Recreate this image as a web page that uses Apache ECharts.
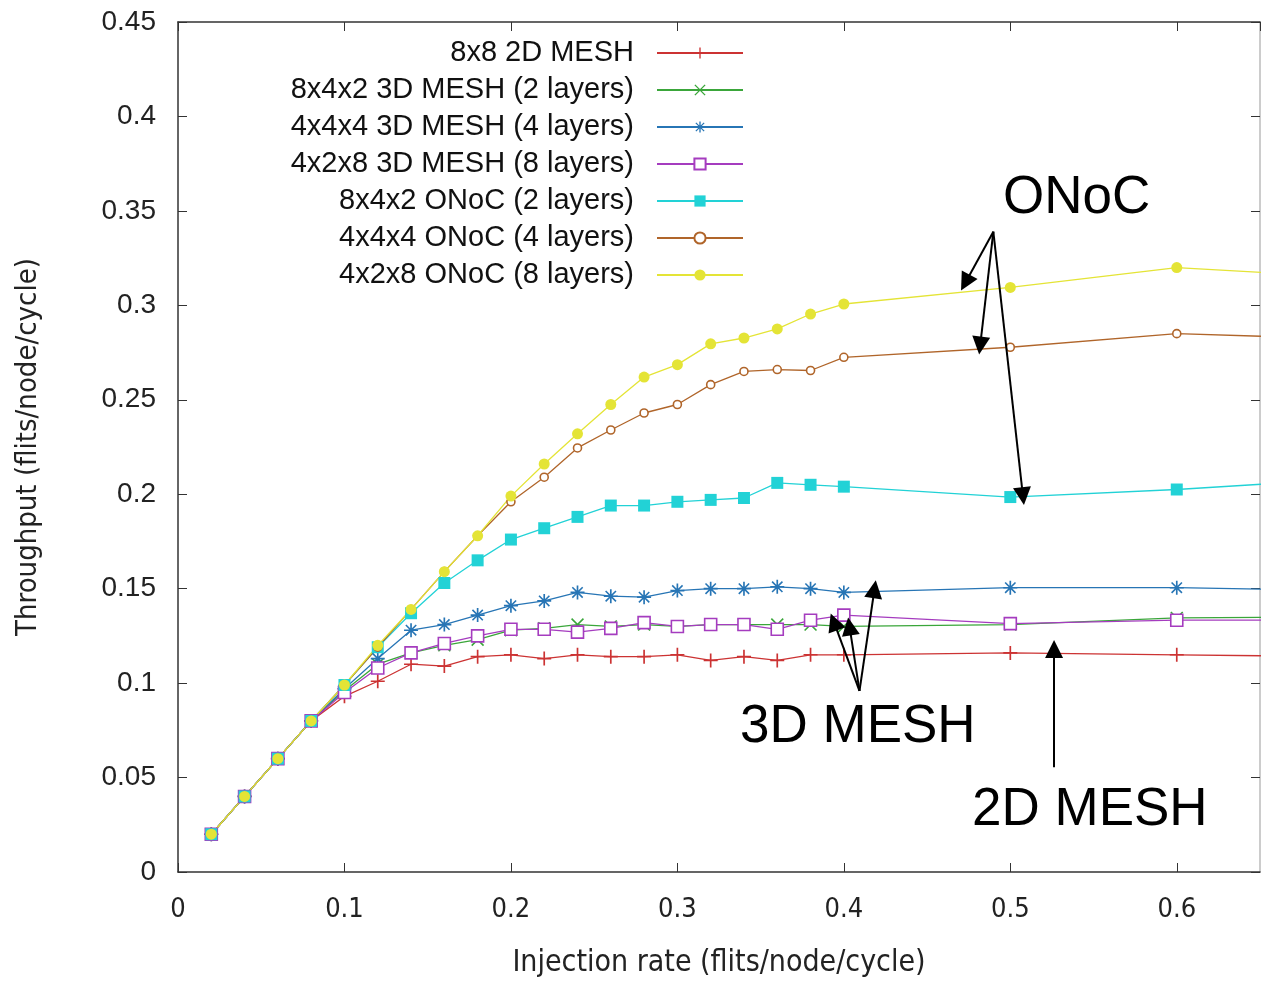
<!DOCTYPE html>
<html>
<head>
<meta charset="utf-8">
<script src="https://cdn.jsdelivr.net/npm/echarts@6/dist/echarts.min.js"></script>
<style>
    html, body { margin: 0; padding: 0; background: #fff; }
    #main { width: 1261px; height: 983px; }
</style>
</head>
<body>
<div id="main"></div>
<script>
// injection rate (x)
const injection = [0.02, 0.04, 0.06, 0.08, 0.10, 0.12, 0.14, 0.16, 0.18, 0.20, 0.22, 0.24, 0.26, 0.28, 0.30, 0.32, 0.34, 0.36, 0.38, 0.40, 0.5, 0.6, 0.7];

// throughput per topology
const mesh2d_8x8 = [0.02, 0.04, 0.06, 0.08, 0.093, 0.101, 0.110, 0.109, 0.114, 0.115, 0.113, 0.115, 0.114, 0.114, 0.115, 0.112, 0.114, 0.112, 0.115, 0.115, 0.116, 0.115, 0.114];
const mesh3d_2l = [0.02, 0.04, 0.06, 0.08, 0.096, 0.110, 0.116, 0.120, 0.123, 0.128, 0.129, 0.131, 0.130, 0.131, 0.130, 0.131, 0.131, 0.131, 0.131, 0.130, 0.131, 0.1345, 0.135];
const mesh3d_4l = [0.02, 0.04, 0.06, 0.08, 0.097, 0.113, 0.128, 0.131, 0.136, 0.141, 0.1435, 0.148, 0.146, 0.1455, 0.149, 0.150, 0.150, 0.151, 0.150, 0.148, 0.1505, 0.1505, 0.149];
const mesh3d_8l = [0.02, 0.04, 0.06, 0.08, 0.095, 0.108, 0.116, 0.121, 0.125, 0.1285, 0.1285, 0.127, 0.129, 0.132, 0.130, 0.131, 0.131, 0.1285, 0.1333, 0.136, 0.1315, 0.1333, 0.1333];
const onoc_2l = [0.02, 0.04, 0.06, 0.08, 0.099, 0.119, 0.137, 0.153, 0.165, 0.176, 0.182, 0.188, 0.194, 0.194, 0.196, 0.197, 0.198, 0.206, 0.205, 0.204, 0.1985, 0.2025, 0.208];
const onoc_4l = [0.02, 0.04, 0.06, 0.08, 0.099, 0.119, 0.139, 0.159, 0.178, 0.196, 0.209, 0.2245, 0.234, 0.243, 0.2475, 0.258, 0.265, 0.266, 0.2655, 0.2725, 0.2778, 0.285, 0.2823];
const onoc_8l = [0.02, 0.04, 0.06, 0.08, 0.099, 0.120, 0.139, 0.159, 0.178, 0.199, 0.216, 0.232, 0.2475, 0.262, 0.2686, 0.2796, 0.2827, 0.2875, 0.2954, 0.3007, 0.3095, 0.320, 0.315];

const seriesNames = ['8x8 2D MESH', '8x4x2 3D MESH (2 layers)', '4x4x4 3D MESH (4 layers)', '4x2x8 3D MESH (8 layers)', '8x4x2 ONoC (2 layers)', '4x4x4 ONoC (4 layers)', '4x2x8 ONoC (8 layers)'];

// annotation arrows [from, to] in data units
const onocArrows = [[[0.4898, 0.339], [0.473, 0.312]], [[0.4898, 0.339], [0.4819, 0.2787]], [[0.4898, 0.339], [0.5076, 0.199]]];
const mesh3dArrows = [[[0.4094, 0.0959], [0.394, 0.1324]], [[0.4094, 0.0959], [0.4034, 0.130]], [[0.4094, 0.0959], [0.4184, 0.1497]]];
const mesh2dArrows = [[[0.5263, 0.0555], [0.5263, 0.118]]];

const SYM_PLUS = 'path://M4.4,0H5.6V10H4.4Z M0,4.4H10V5.6H0Z';
const SYM_CROSS = 'path://M0.4,1.2L1.2,0.4L9.6,8.8L8.8,9.6Z M8.8,0.4L9.6,1.2L1.2,9.6L0.4,8.8Z';
const SYM_STAR = 'path://M4.4,0H5.6V10H4.4Z M0,4.4H10V5.6H0Z M0.9,1.7L1.7,0.9L9.1,8.3L8.3,9.1Z M8.3,0.9L9.1,1.7L1.7,9.1L0.9,8.3Z';
const ARROW_HEAD = 'path://M7,0L14,20L0,20Z';

function pairs(ys) {
    return injection.map((x, i) => [x, ys[i]]);
}

function makeSeries(name, ys, color, symbol, size, fill) {
    return {
        name: name,
        type: 'line',
        data: pairs(ys),
        symbol: symbol,
        symbolSize: size,
        showAllSymbol: true,
        clip: true,
        lineStyle: { color: color, width: 1.3 },
        itemStyle: fill ? { color: color } : { color: '#fff', borderColor: color, borderWidth: 1.6 },
        emphasis: { disabled: true }
    };
}

function arrowData(list) {
    return list.map(a => [{ coord: a[0] }, { coord: a[1] }]);
}

const labelFont = '"Liberation Sans", Arial, sans-serif';
const narrowFont = '"Liberation Sans Narrow", "DejaVu Sans Condensed", "Liberation Sans", sans-serif';

// 上方和右侧的镜像坐标轴（只画轴线和刻度）
function mirrorAxis(pos, max, interval, lineColor) {
    return {
        type: 'value',
        position: pos,
        min: 0,
        max: max,
        interval: interval,
        axisLine: { show: true, onZero: false, lineStyle: { color: lineColor, width: 1.5 } },
        axisTick: { show: true, inside: true, length: 9, lineStyle: { color: '#333' } },
        axisLabel: { show: false },
        splitLine: { show: false }
    };
}

var myChart = echarts.init(document.getElementById('main'));
var series = [
    makeSeries(seriesNames[0], mesh2d_8x8, '#cc3333', SYM_PLUS, 14, true),
    makeSeries(seriesNames[1], mesh3d_2l, '#3aa63a', SYM_CROSS, 13, true),
    makeSeries(seriesNames[2], mesh3d_4l, '#2775b5', SYM_STAR, 14, true),
    makeSeries(seriesNames[3], mesh3d_8l, '#a53cbf', 'rect', 12, false),
    makeSeries(seriesNames[4], onoc_2l, '#22d2d6', 'rect', 12, true),
    makeSeries(seriesNames[5], onoc_4l, '#b0652a', 'circle', 8, false),
    makeSeries(seriesNames[6], onoc_8l, '#e4e436', 'circle', 11, true),
    {
        name: 'arrows',
        type: 'line',
        data: [],
        silent: true,
        markLine: {
            silent: true,
            symbol: ['none', ARROW_HEAD],
            symbolSize: 18,
            label: { show: false },
            lineStyle: { color: '#000', width: 2, type: 'solid' },
            emphasis: { disabled: true },
            data: arrowData(onocArrows).concat(arrowData(mesh3dArrows), arrowData(mesh2dArrows))
        }
    }
];

var option = {
    animation: false,
    backgroundColor: '#fff',
    grid: { left: 178, top: 22, right: 1, bottom: 110 },
    legend: {
        data: seriesNames,
        orient: 'vertical',
        align: 'right',
        right: 512,
        top: 33,
        itemWidth: 86,
        itemHeight: 14,
        itemGap: 7,
        textStyle: { fontFamily: labelFont, fontSize: 29, color: '#111', lineHeight: 30, padding: [0, 18, 0, 0] }
    },
    xAxis: [{
        type: 'value',
        min: 0,
        max: 0.65,
        interval: 0.1,
        name: 'Injection rate (flits/node/cycle)',
        nameLocation: 'middle',
        nameGap: 76,
        nameTextStyle: { fontFamily: narrowFont, fontSize: 30, color: '#222' },
        axisLine: { show: true, onZero: false, lineStyle: { color: '#333', width: 1.5 } },
        axisTick: { show: true, inside: true, length: 9, lineStyle: { color: '#333' } },
        axisLabel: { fontFamily: narrowFont, fontSize: 27, color: '#222', margin: 24, showMaxLabel: false },
        splitLine: { show: false }
    }, mirrorAxis('top', 0.65, 0.1, '#333')],
    yAxis: [{
        type: 'value',
        min: 0,
        max: 0.45,
        interval: 0.05,
        name: 'Throughput (flits/node/cycle)',
        nameLocation: 'middle',
        nameGap: 135,
        nameTextStyle: { fontFamily: narrowFont, fontSize: 29, color: '#222' },
        axisLine: { show: true, onZero: false, lineStyle: { color: '#333', width: 1.5 } },
        axisTick: { show: true, inside: true, length: 9, lineStyle: { color: '#333' } },
        axisLabel: { fontFamily: labelFont, fontSize: 28, color: '#222', margin: 22 },
        splitLine: { show: false }
    }, mirrorAxis('right', 0.45, 0.05, '#bbb')],
    graphic: [
        { type: 'text', left: 1003, top: 172, style: { text: 'ONoC', fontFamily: labelFont, fontSize: 53, fill: '#000' } },
        { type: 'text', left: 740, top: 701, style: { text: '3D MESH', fontFamily: labelFont, fontSize: 53, fill: '#000' } },
        { type: 'text', left: 972, top: 784, style: { text: '2D MESH', fontFamily: labelFont, fontSize: 53, fill: '#000' } }
    ],
    series: series
};

myChart.setOption(option);
window.onresize = function () {
    myChart.resize();
};
</script>
</body>
</html>
